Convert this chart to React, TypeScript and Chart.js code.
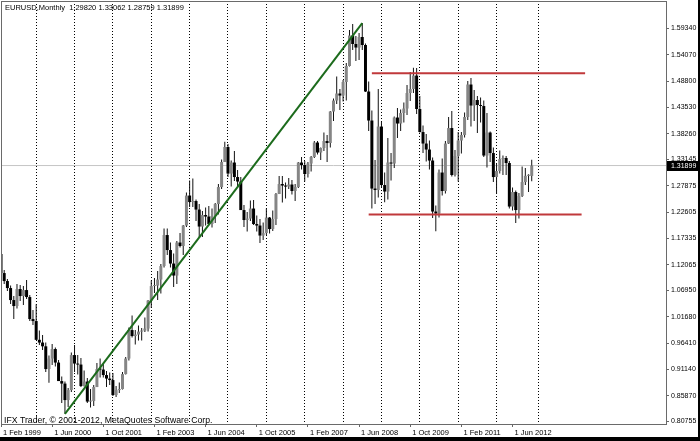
import React, { useEffect, useRef } from "react";
import { Chart, registerables } from "chart.js";

Chart.register(...registerables);

const symbol = "EURUSD";
const period = "Monthly";
const copyright = "IFX Trader, \u00a9 2001-2012, MetaQuotes Software Corp.";

// Monthly candles, Jan 1999 (index 0) ... Dec 2012 (index 167)
const opens = [
  1.1750, 1.1420, 1.1040, 1.0880, 1.0740, 1.0500, 1.0380, 1.0720, 1.0580, 1.0700, 1.0560, 1.0120,
  1.0080, 0.9705, 0.9650, 0.9575, 0.9120, 0.9330, 0.9520, 0.9250, 0.8880, 0.8830, 0.8500, 0.8700,
  0.9400, 0.9230, 0.9210, 0.8780, 0.8870, 0.8470, 0.8480, 0.8760, 0.9120, 0.9110, 0.9000, 0.8930,
  0.8900, 0.8600, 0.8700, 0.8720, 0.9020, 0.9330, 0.9900, 0.9780, 0.9810, 0.9870, 0.9890, 0.9930,
  1.0490, 1.0780, 1.0790, 1.0910, 1.1180, 1.1800, 1.1500, 1.1230, 1.0990, 1.1650, 1.1580, 1.1990,
  1.2590, 1.2460, 1.2480, 1.2310, 1.1970, 1.2200, 1.2170, 1.2020, 1.2180, 1.2420, 1.2760, 1.3260,
  1.3560, 1.3030, 1.3250, 1.2960, 1.2870, 1.2300, 1.2100, 1.2130, 1.2330, 1.2020, 1.1990, 1.1790,
  1.1840, 1.2150, 1.1920, 1.2120, 1.2620, 1.2820, 1.2790, 1.2770, 1.2810, 1.2680, 1.2760, 1.3250,
  1.3200, 1.3020, 1.3230, 1.3360, 1.3650, 1.3450, 1.3540, 1.3680, 1.3640, 1.4270, 1.4490, 1.4630,
  1.4590, 1.4860, 1.5180, 1.5790, 1.5620, 1.5550, 1.5760, 1.5600, 1.4670, 1.4090, 1.2730, 1.2700,
  1.3970, 1.2800, 1.2670, 1.3250, 1.3230, 1.4150, 1.4030, 1.4240, 1.4330, 1.4640, 1.4720, 1.4990,
  1.4320, 1.3860, 1.3630, 1.3510, 1.3290, 1.2270, 1.2230, 1.3050, 1.2680, 1.3630, 1.3940, 1.3000,
  1.3380, 1.3690, 1.3800, 1.4160, 1.4810, 1.4390, 1.4500, 1.4400, 1.4380, 1.3390, 1.3850, 1.3440,
  1.2960, 1.3080, 1.3320, 1.3340, 1.3240, 1.2370, 1.2660, 1.2300, 1.2580, 1.2860, 1.2985, 1.29820,
];
const highs = [
  1.1900, 1.1450, 1.1100, 1.0920, 1.0790, 1.0580, 1.0820, 1.0800, 1.0780, 1.0900, 1.0600, 1.0300,
  1.0414, 0.9890, 0.9800, 0.9650, 0.9390, 0.9620, 0.9550, 0.9300, 0.8970, 0.8870, 0.8740, 0.9450,
  0.9600, 0.9400, 0.9340, 0.9090, 0.8940, 0.8720, 0.8800, 0.9240, 0.9330, 0.9220, 0.9080, 0.9050,
  0.9040, 0.8780, 0.8850, 0.9060, 0.9360, 0.9950, 1.0190, 0.9900, 0.9990, 0.9940, 1.0150, 1.0500,
  1.0890, 1.0940, 1.1080, 1.1220, 1.1930, 1.1930, 1.1650, 1.1430, 1.1680, 1.1840, 1.2000, 1.2650,
  1.2890, 1.2930, 1.2510, 1.2420, 1.2280, 1.2350, 1.2380, 1.2330, 1.2440, 1.2820, 1.3310, 1.3667,
  1.3620, 1.3290, 1.3480, 1.3100, 1.2960, 1.2400, 1.2260, 1.2490, 1.2500, 1.2190, 1.2120, 1.2050,
  1.2330, 1.2160, 1.2290, 1.2640, 1.2980, 1.2980, 1.2850, 1.2940, 1.2900, 1.2820, 1.3260, 1.3360,
  1.3280, 1.3260, 1.3380, 1.3680, 1.3680, 1.3550, 1.3850, 1.3800, 1.4280, 1.4530, 1.4970, 1.4720,
  1.4900, 1.5240, 1.5900, 1.6020, 1.5780, 1.5840, 1.6038, 1.5630, 1.4870, 1.4290, 1.3300, 1.4720,
  1.4070, 1.3050, 1.3740, 1.3440, 1.4170, 1.4340, 1.4310, 1.4450, 1.4800, 1.5060, 1.5145, 1.5140,
  1.4580, 1.3990, 1.3820, 1.3690, 1.3350, 1.2390, 1.3110, 1.3330, 1.3680, 1.4160, 1.4280, 1.3500,
  1.3860, 1.3860, 1.4250, 1.4880, 1.4940, 1.4700, 1.4580, 1.4550, 1.4490, 1.4240, 1.3870, 1.3550,
  1.3230, 1.3490, 1.3390, 1.3380, 1.3280, 1.2750, 1.2690, 1.2640, 1.3170, 1.3140, 1.3015, 1.33062,
];
const lows = [
  1.1350, 1.0980, 1.0820, 1.0680, 1.0420, 1.0120, 1.0330, 1.0480, 1.0400, 1.0520, 1.0080, 1.0000,
  0.9700, 0.9600, 0.9500, 0.9060, 0.8844, 0.9200, 0.9170, 0.8880, 0.8440, 0.8225, 0.8360, 0.8660,
  0.9060, 0.9010, 0.8760, 0.8770, 0.8440, 0.8350, 0.8380, 0.8760, 0.8950, 0.8950, 0.8760, 0.8800,
  0.8580, 0.8560, 0.8640, 0.8710, 0.9010, 0.9290, 0.9750, 0.9610, 0.9690, 0.9690, 0.9860, 0.9870,
  1.0340, 1.0640, 1.0500, 1.0630, 1.1150, 1.1400, 1.1150, 1.0760, 1.0820, 1.1550, 1.1400, 1.1960,
  1.2360, 1.2360, 1.2080, 1.1760, 1.1760, 1.1990, 1.2010, 1.1950, 1.2040, 1.2210, 1.2720, 1.3260,
  1.2960, 1.2770, 1.2880, 1.2750, 1.2300, 1.1960, 1.1870, 1.2080, 1.2000, 1.1870, 1.1640, 1.1700,
  1.1800, 1.1830, 1.1880, 1.2000, 1.2620, 1.2450, 1.2530, 1.2720, 1.2610, 1.2480, 1.2740, 1.3110,
  1.2870, 1.2950, 1.3070, 1.3340, 1.3410, 1.3300, 1.3480, 1.3260, 1.3550, 1.4080, 1.4420, 1.4300,
  1.4470, 1.4490, 1.5170, 1.5500, 1.5280, 1.5300, 1.5500, 1.4660, 1.3880, 1.2330, 1.2420, 1.2550,
  1.2750, 1.2457, 1.2510, 1.2890, 1.3140, 1.3740, 1.3880, 1.4050, 1.4200, 1.4480, 1.4640, 1.4220,
  1.3850, 1.3440, 1.3270, 1.3110, 1.2140, 1.1876, 1.2150, 1.2590, 1.2630, 1.3620, 1.2970, 1.2970,
  1.2870, 1.3430, 1.3750, 1.4100, 1.3970, 1.4080, 1.3840, 1.4050, 1.3360, 1.3150, 1.3260, 1.2860,
  1.2620, 1.3030, 1.3000, 1.3000, 1.2330, 1.2290, 1.2042, 1.2130, 1.2560, 1.2800, 1.2660, 1.28759,
];
const closes = [
  1.1420, 1.1040, 1.0880, 1.0740, 1.0500, 1.0380, 1.0720, 1.0580, 1.0700, 1.0560, 1.0120, 1.0080,
  0.9705, 0.9650, 0.9575, 0.9120, 0.9330, 0.9520, 0.9250, 0.8880, 0.8830, 0.8500, 0.8700, 0.9400,
  0.9230, 0.9210, 0.8780, 0.8870, 0.8470, 0.8480, 0.8760, 0.9120, 0.9110, 0.9000, 0.8930, 0.8900,
  0.8600, 0.8700, 0.8720, 0.9020, 0.9330, 0.9900, 0.9780, 0.9810, 0.9870, 0.9890, 0.9930, 1.0490,
  1.0780, 1.0790, 1.0910, 1.1180, 1.1800, 1.1500, 1.1230, 1.0990, 1.1650, 1.1580, 1.1990, 1.2590,
  1.2460, 1.2480, 1.2310, 1.1970, 1.2200, 1.2170, 1.2020, 1.2180, 1.2420, 1.2760, 1.3260, 1.3560,
  1.3030, 1.3250, 1.2960, 1.2870, 1.2300, 1.2100, 1.2130, 1.2330, 1.2020, 1.1990, 1.1790, 1.1840,
  1.2150, 1.1920, 1.2120, 1.2620, 1.2820, 1.2790, 1.2770, 1.2810, 1.2680, 1.2760, 1.3250, 1.3200,
  1.3020, 1.3230, 1.3360, 1.3650, 1.3450, 1.3540, 1.3680, 1.3640, 1.4270, 1.4490, 1.4630, 1.4590,
  1.4860, 1.5180, 1.5790, 1.5620, 1.5550, 1.5760, 1.5600, 1.4670, 1.4090, 1.2730, 1.2700, 1.3970,
  1.2800, 1.2670, 1.3250, 1.3230, 1.4150, 1.4030, 1.4240, 1.4330, 1.4640, 1.4720, 1.4990, 1.4320,
  1.3860, 1.3630, 1.3510, 1.3290, 1.2270, 1.2230, 1.3050, 1.2680, 1.3630, 1.3940, 1.3000, 1.3380,
  1.3690, 1.3800, 1.4160, 1.4810, 1.4390, 1.4500, 1.4400, 1.4380, 1.3390, 1.3850, 1.3440, 1.2960,
  1.3080, 1.3320, 1.3340, 1.3240, 1.2370, 1.2660, 1.2300, 1.2580, 1.2860, 1.2985, 1.2985, 1.31899,
];

// price-axis labels as printed by the terminal
const yTickValues = [
  0.80755, 0.8587, 0.9114, 0.9641, 1.0168, 1.0695, 1.12065, 1.17335,
  1.22605, 1.27875, 1.33145, 1.3826, 1.4353, 1.488, 1.5407, 1.5934,
];
// time-axis labels (month index from Jan 1999)
const xLabelIndex = [1, 17, 33, 49, 65, 81, 97, 113, 129, 145, 161];
const xLabelText = [
  "1 Feb 1999", "1 Jun 2000", "1 Oct 2001", "1 Feb 2003", "1 Jun 2004", "1 Oct 2005",
  "1 Feb 2007", "1 Jun 2008", "1 Oct 2009", "1 Feb 2011", "1 Jun 2012",
];
// vertical period separators
const yearGridIndex = [12, 24, 36, 48, 60, 72, 84, 96, 108, 120, 132, 144, 156, 169];

// drawn objects
const trendX = [21, 114];
const trendY = [0.8225, 1.6038];
const resistanceX = [117, 183.7];
const resistanceY = [1.5035, 1.5035];
const supportX = [116, 182.6];
const supportY = [1.2211, 1.2211];
const lastPrice = 1.31899;

// visible window
const xMin = 1.0;
const xMax = 209.0;
const yMin = 0.80215;
const yMax = 1.64803;

const FONT = "'Liberation Sans', Arial, sans-serif";
const fmt = (v: number) => v.toFixed(5);

export default function App() {
  const ref = useRef<HTMLCanvasElement>(null);

  useEffect(() => {
    document.body.style.margin = "0";
    const canvas = ref.current;
    if (!canvas) return;
    const idx = closes.map((_, i) => i);
    const last = closes.length - 1;
    const header = `${symbol},${period}  ${fmt(opens[last])} ${fmt(highs[last])} ${fmt(lows[last])} ${fmt(closes[last])}`;

    const overlay = {
      id: "overlay",
      afterDraw(chart: any) {
        const { ctx, chartArea } = chart;
        const { left, top, right, bottom } = chartArea;
        ctx.save();
        // frame
        ctx.strokeStyle = "#6a6a6a";
        ctx.lineWidth = 1;
        ctx.strokeRect(left + 0.5, top + 0.5, right - left, bottom - top);
        // header
        ctx.fillStyle = "#000";
        ctx.font = `7.5px ${FONT}`;
        ctx.textBaseline = "top";
        ctx.textAlign = "left";
        ctx.fillText(header, left + 4, top + 3);
        // copyright
        ctx.font = `8.7px ${FONT}`;
        ctx.textBaseline = "alphabetic";
        ctx.fillText(copyright, left + 3, bottom - 1);
        // last price tag
        const y = Math.round(chart.scales.y.getPixelForValue(lastPrice));
        ctx.fillStyle = "#000";
        ctx.fillRect(right + 1, y - 5, chart.width - right, 10);
        ctx.fillStyle = "#fff";
        ctx.font = `7px ${FONT}`;
        ctx.textBaseline = "middle";
        ctx.fillText(fmt(lastPrice), right + 5, y + 0.5);
        ctx.restore();
      },
    };

    const chart = new Chart(canvas, {
      type: "bar",
      data: {
        datasets: [
          {
            type: "line",
            label: "trend",
            data: trendX.map((x, k) => ({ x, y: trendY[k] })),
            borderColor: "#1c6b1c",
            borderWidth: 2,
            pointRadius: 0,
            order: 0,
          },
          {
            type: "line",
            label: "resistance",
            data: resistanceX.map((x, k) => ({ x, y: resistanceY[k] })),
            borderColor: "#c0393b",
            borderWidth: 2,
            pointRadius: 0,
            order: 0,
          },
          {
            type: "line",
            label: "support",
            data: supportX.map((x, k) => ({ x, y: supportY[k] })),
            borderColor: "#c0393b",
            borderWidth: 2,
            pointRadius: 0,
            order: 0,
          },
          {
            type: "bar",
            label: "body",
            data: idx.map((i) => ({ x: i, y: [opens[i], closes[i]] })),
            backgroundColor: idx.map((i) => (closes[i] >= opens[i] ? "#858585" : "#000")),
            borderWidth: 0,
            barThickness: 3,
            minBarLength: 1,
            grouped: false,
            inflateAmount: 0,
            order: 1,
          },
          {
            type: "bar",
            label: "wick",
            data: idx.map((i) => ({ x: i, y: [lows[i], highs[i]] })),
            backgroundColor: "#111",
            barThickness: 1,
            grouped: false,
            inflateAmount: 0,
            order: 2,
          },
          {
            type: "line",
            label: "price",
            data: [
              { x: xMin, y: lastPrice },
              { x: xMax, y: lastPrice },
            ],
            borderColor: "#c6c6c6",
            borderWidth: 1,
            pointRadius: 0,
            order: 3,
          },
        ] as any,
      },
      options: {
        responsive: false,
        maintainAspectRatio: false,
        animation: false,
        devicePixelRatio: 1,
        events: [],
        layout: { padding: { top: 1, left: 1, right: 0, bottom: 0 } },
        plugins: { legend: { display: false }, tooltip: { enabled: false } },
        scales: {
          x: {
            type: "linear",
            position: "bottom",
            min: xMin,
            max: xMax,
            offset: false,
            afterBuildTicks: (s: any) => {
              s.ticks = xLabelIndex.map((v) => ({ value: v }));
            },
            afterFit: (s: any) => {
              s.height = 13;
              s.paddingLeft = 0;
              s.paddingRight = 0;
            },
            ticks: {
              autoSkip: false,
              maxRotation: 0,
              align: "start",
              labelOffset: 2,
              padding: 1,
              color: "#000",
              font: { family: FONT, size: 7.5 },
              callback: (v: any) => {
                const k = xLabelIndex.indexOf(Number(v));
                return k >= 0 ? xLabelText[k] : "";
              },
            },
            grid: { drawOnChartArea: false, offset: false, tickLength: 3, color: "#666" },
            border: { display: false },
          },
          xg: {
            type: "linear",
            position: "top",
            min: xMin,
            max: xMax,
            offset: false,
            afterBuildTicks: (s: any) => {
              s.ticks = yearGridIndex.map((v) => ({ value: v }));
            },
            afterFit: (s: any) => {
              s.height = 0;
              s.paddingLeft = 0;
              s.paddingRight = 0;
            },
            ticks: { display: false },
            grid: { drawOnChartArea: true, drawTicks: false, color: "#000", lineWidth: 1, offset: false },
            border: { display: false, dash: [1, 2] },
          },
          y: {
            type: "linear",
            position: "right",
            min: yMin,
            max: yMax,
            beginAtZero: false,
            afterBuildTicks: (s: any) => {
              s.ticks = yTickValues.map((v) => ({ value: v }));
            },
            afterFit: (s: any) => {
              s.width = 32;
              s.paddingTop = 0;
              s.paddingBottom = 0;
            },
            ticks: {
              padding: 2,
              color: "#000",
              font: { family: FONT, size: 7 },
              callback: (v: any) => Number(v).toFixed(5),
            },
            grid: { drawOnChartArea: false, tickLength: 3, color: "#666" },
            border: { display: false },
          },
        },
      } as any,
      plugins: [overlay],
    });

    return () => chart.destroy();
  }, []);

  return (
    <div
      style={{
        position: "fixed",
        left: 0,
        top: 0,
        width: 700,
        height: 441,
        background: "#000",
      }}
    >
      <canvas
        ref={ref}
        width={698}
        height={437}
        style={{ display: "block", width: 698, height: 437, background: "#fff" }}
      />
    </div>
  );
}
